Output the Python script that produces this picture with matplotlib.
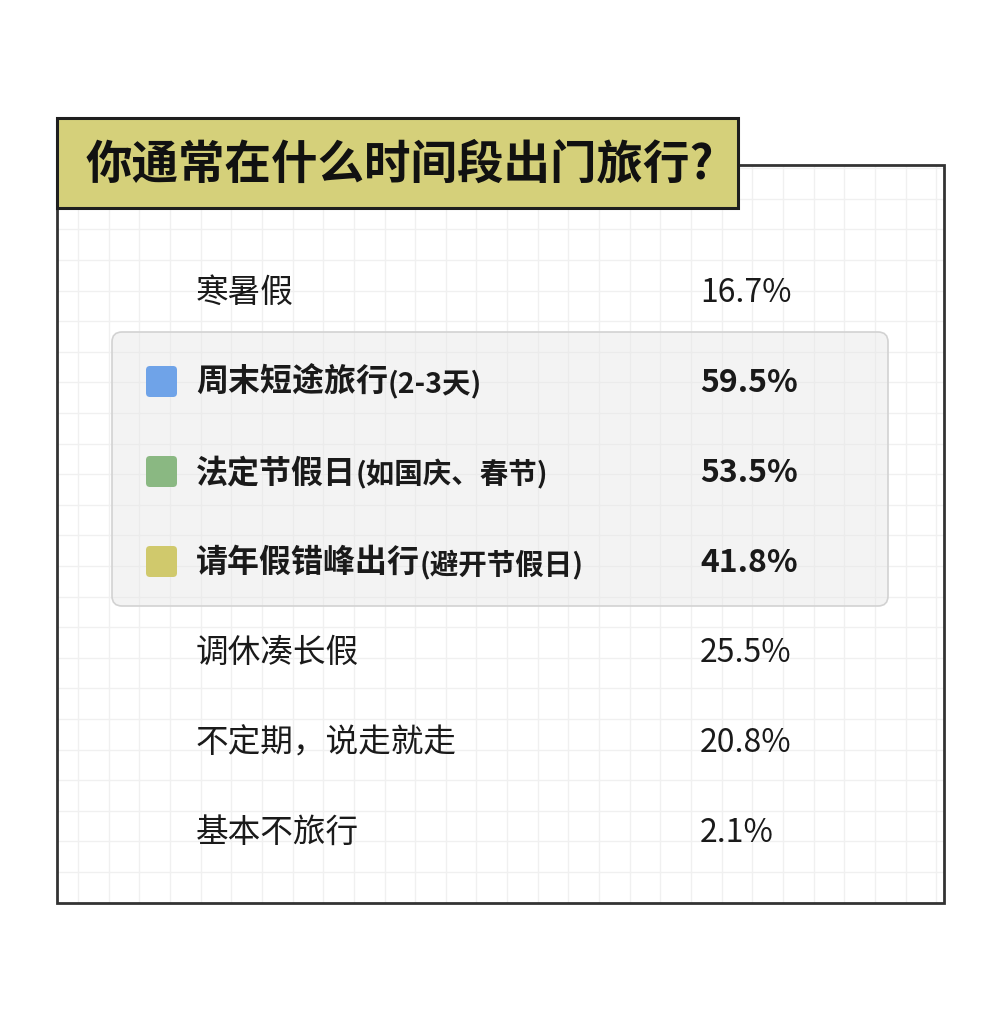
import numpy as np
import matplotlib
matplotlib.use("Agg")
import matplotlib.pyplot as plt
from matplotlib.patches import Rectangle, FancyBboxPatch

plt.rcParams['font.family'] = ['Noto Sans CJK SC', 'DejaVu Sans']

# data
title = "你通常在什么时间段出门旅行?"
labels = ["寒暑假", "周末短途旅行", "法定节假日", "请年假错峰出行",
          "调休凑长假", "不定期，说走就走", "基本不旅行"]
notes = ["", "(2-3天)", "(如国庆、春节)", "(避开节假日)", "", "", ""]
values = [16.7, 59.5, 53.5, 41.8, 25.5, 20.8, 2.1]
highlight = [False, True, True, True, False, False, False]
marker_colors = {1: "#6fa3e8", 2: "#8ab882", 3: "#d0c96c"}

# layout (pixels)
W, H = 1000, 1013
frame_l, frame_r, frame_t, frame_b = 57, 944, 165, 903
row_y0, row_step = 293, 90
label_x, value_x = 196, 700

fig = plt.figure(figsize=(W / 100, H / 100), dpi=100)
ax = fig.add_axes([0, 0, 1, 1])
ax.set_xlim(0, W)
ax.set_ylim(H, 0)
ax.axis('off')

# grid paper
xs = np.arange(78, frame_r - 3, 30.65)
ys = np.arange(168.2, frame_b - 3, 30.6)
ax.vlines(xs, frame_t, frame_b, color="#f0f0f0", lw=1.0, zorder=1)
ax.hlines(ys, frame_l, frame_r, color="#f0f0f0", lw=1.0, zorder=1)

# outer frame
ax.add_patch(Rectangle((frame_l, frame_t), frame_r - frame_l, frame_b - frame_t,
                       fill=False, ec="#333333", lw=2.0, zorder=2))

# title box
ax.add_patch(Rectangle((57, 118), 681, 90, fc="#d5d07a", ec="#1e1e1e", lw=2.2, zorder=3))
ax.text(86, 165, title, fontsize=33.5, fontweight='bold', color="#111111",
        ha='left', va='center', zorder=4)

# highlighted group box
ax.add_patch(FancyBboxPatch((112, 332), 776, 274, boxstyle="round,pad=0,rounding_size=10",
                            fc="#e6e6e6", alpha=0.45, ec="none", zorder=2))
ax.add_patch(FancyBboxPatch((112, 332), 776, 274, boxstyle="round,pad=0,rounding_size=10",
                            fc="none", ec="#d2d2d2", lw=1.2, zorder=2))

renderer = fig.canvas.get_renderer()
inv = ax.transData.inverted()

for i, (lab, note, val, hl) in enumerate(zip(labels, notes, values, highlight)):
    y = row_y0 + i * row_step
    weight = 'bold' if hl else 'normal'
    t = ax.text(label_x, y, lab, fontsize=23.5 if not hl else 23, fontweight=weight,
                color="#1a1a1a", ha='left', va='center', zorder=5)
    if note:
        bb = t.get_window_extent(renderer)
        x_end = inv.transform((bb.x1, bb.y0))[0]
        ax.text(x_end, y + 1, note, fontsize=20.5, fontweight=weight, color="#1a1a1a",
                ha='left', va='center', zorder=5)
    ax.text(value_x, y, f"{val:.1f}%", fontsize=23, fontweight=weight, color="#1a1a1a",
            ha='left', va='center', zorder=5)
    if i in marker_colors:
        ax.add_patch(FancyBboxPatch((146, y - 17), 31, 31,
                                    boxstyle="round,pad=0,rounding_size=4",
                                    fc=marker_colors[i], ec="none", zorder=5))

fig.savefig("out.png", dpi=100, facecolor="white")
